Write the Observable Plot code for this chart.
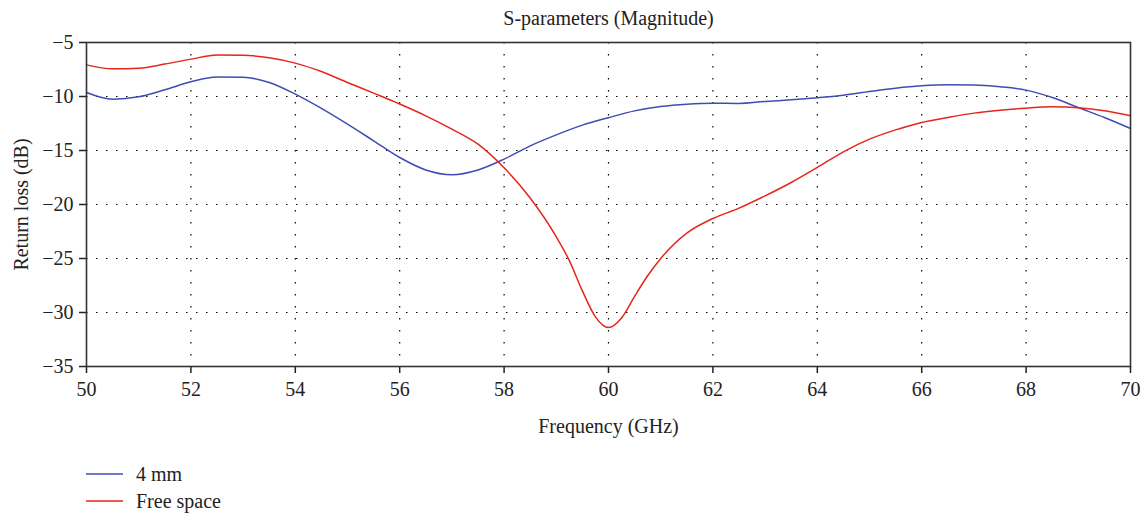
<!DOCTYPE html>
<html>
<head>
<meta charset="utf-8">
<script src="https://cdn.jsdelivr.net/npm/d3@7"></script>
<script src="https://cdn.jsdelivr.net/npm/@observablehq/plot@0.6"></script>
<style>
  body { margin: 0; background: #fff; font-family: "Liberation Serif", "DejaVu Serif", serif; }
  #legend { position: relative; height: 75px; }
  .item { position: absolute; left: 86px; display: flex; align-items: center; font-size: 20px; color: #222; line-height: 1; }
  .item svg { margin-right: 13px; }
</style>
</head>
<body>
<div id="chart"></div>
<div id="legend"></div>
<script>
const title = "S-parameters (Magnitude)";
const xLabel = "Frequency (GHz)";
const yLabel = "Return loss (dB)";
const seriesNames = ["4 mm", "Free space"];
const seriesColors = ["#3f4db3", "#e4261b"];
const xTicks = [50, 52, 54, 56, 58, 60, 62, 64, 66, 68, 70];
const yTicks = [-5, -10, -15, -20, -25, -30, -35];

const freq4mm = [50, 50.5, 51, 51.5, 52, 52.5, 53, 53.5, 54, 54.5, 55, 55.5, 56, 56.5, 57, 57.5, 58, 58.5, 59, 59.5, 60,
                 60.5, 61, 61.5, 62, 62.5, 63, 63.5, 64, 64.5, 65, 65.5, 66, 66.5, 67, 67.5, 68, 68.5, 69, 69.5, 70];
const s4mm = [-9.63, -10.25, -10.03, -9.38, -8.64, -8.2, -8.22, -8.70, -9.78, -11.1, -12.56, -14.1, -15.65, -16.8, -17.25, -16.8, -15.8, -14.57, -13.55, -12.65, -11.96,
              -11.33, -10.93, -10.71, -10.62, -10.65, -10.46, -10.31, -10.12, -9.88, -9.54, -9.23, -9.01, -8.91, -8.93, -9.1, -9.41, -10.09, -11.02, -11.94, -12.96];

const freqFree = [50, 50.5, 51, 51.5, 52, 52.5, 53, 53.5, 54, 54.5, 55, 55.5, 56, 56.5, 57, 57.5, 58, 58.5, 59, 59.25, 59.5, 59.75, 60,
                  60.25, 60.5, 60.75, 61, 61.5, 62, 62.5, 63, 63.5, 64, 64.5, 65, 65.5, 66, 66.5, 67, 67.5, 68, 68.5, 69, 69.5, 70];
const sFree = [-7.07, -7.44, -7.38, -7.0, -6.54, -6.16, -6.18, -6.42, -6.91, -7.69, -8.7, -9.69, -10.7, -11.79, -13.02, -14.41, -16.6, -19.4, -23.0, -25.2, -28.0, -30.4, -31.4,
               -30.5, -28.5, -26.6, -25.0, -22.65, -21.3, -20.34, -19.2, -17.96, -16.57, -15.12, -13.95, -13.09, -12.4, -11.94, -11.54, -11.27, -11.08, -10.96, -11.05, -11.33, -11.79];

const data = [
  ...freq4mm.map((f, i) => ({f, v: s4mm[i], s: seriesNames[0]})),
  ...freqFree.map((f, i) => ({f, v: sFree[i], s: seriesNames[1]}))
];

const font = '"Liberation Serif", "DejaVu Serif", serif';
const plot = Plot.plot({
  width: 1147,
  height: 440,
  marginLeft: 86,
  marginRight: 17,
  marginTop: 42,
  marginBottom: 74,
  style: {fontFamily: font, fontSize: "20px", color: "#222", background: "#fff"},
  x: {domain: [50, 70]},
  y: {domain: [-35, -5]},
  color: {domain: seriesNames, range: seriesColors},
  marks: [
    Plot.gridX(xTicks.slice(1, -1), {stroke: "#000", strokeOpacity: 1, strokeDasharray: "1.5,10.5", strokeWidth: 1.2}),
    Plot.gridY(yTicks.slice(1, -1), {stroke: "#000", strokeOpacity: 1, strokeDasharray: "1.5,8.5", strokeWidth: 1.2}),
    Plot.axisX(xTicks, {tickSize: 7, tickPadding: 8, fontSize: 20, label: xLabel, labelAnchor: "center", labelArrow: "none", labelOffset: 66, strokeWidth: 1.5}),
    Plot.axisY(yTicks, {tickSize: 7, tickPadding: 6, fontSize: 20, label: yLabel, labelAnchor: "center", labelArrow: "none", labelOffset: 73, strokeWidth: 1.5}),
    Plot.line(data, {x: "f", y: "v", z: "s", stroke: "s", strokeWidth: 1.5, curve: "monotone-x"}),
    Plot.frame({stroke: "#333", strokeWidth: 1.6}),
    Plot.text([title], {frameAnchor: "top", lineAnchor: "middle", dy: -24, fontSize: 20, fill: "#222"})
  ]
});
document.getElementById("chart").appendChild(plot);

const legend = document.getElementById("legend");
seriesNames.forEach((name, i) => {
  const div = document.createElement("div");
  div.className = "item";
  div.style.top = (24 + i * 27) + "px";
  div.innerHTML = `<svg width="37" height="4"><line x1="0" y1="2" x2="37" y2="2" stroke="${seriesColors[i]}" stroke-width="1.3"/></svg><span>${name}</span>`;
  legend.appendChild(div);
});
</script>
</body>
</html>
